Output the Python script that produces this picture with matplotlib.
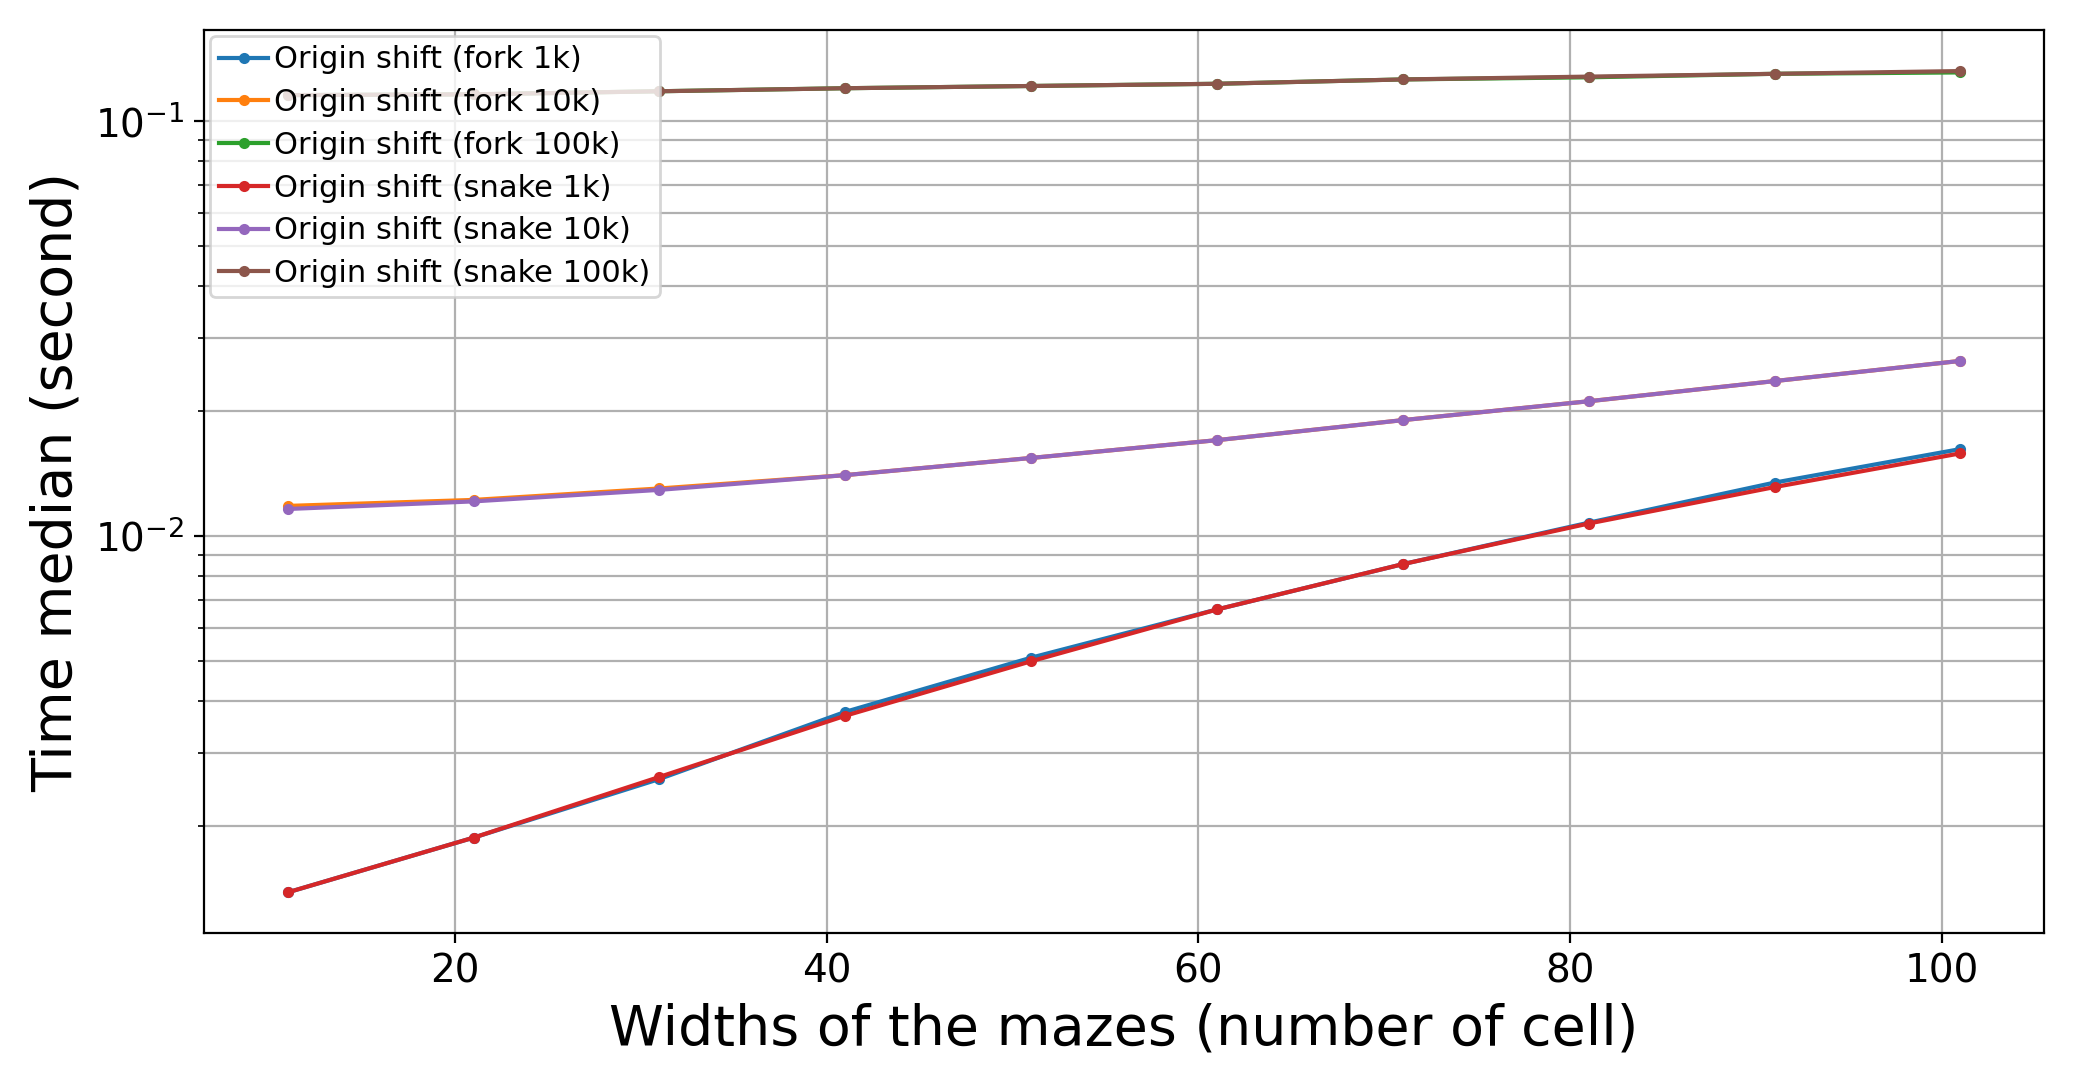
import matplotlib
matplotlib.use('Agg')
import matplotlib.pyplot as plt

widths = [11, 21, 31, 41, 51, 61, 71, 81, 91, 101]

fork_1k = [0.00138, 0.00187, 0.00259, 0.00376, 0.00508, 0.00664, 0.00854, 0.01075, 0.01343, 0.01618]
fork_10k = [0.0118, 0.0122, 0.0130, 0.0140, 0.0154, 0.0170, 0.0190, 0.0211, 0.0236, 0.0264]
fork_100k = [0.1155, 0.1160, 0.1180, 0.1200, 0.1215, 0.1230, 0.1260, 0.1275, 0.1300, 0.1310]
snake_1k = [0.00138, 0.00187, 0.00262, 0.00368, 0.00498, 0.00664, 0.00854, 0.01070, 0.01310, 0.01580]
snake_10k = [0.0116, 0.0121, 0.0129, 0.0140, 0.0154, 0.0170, 0.0190, 0.0211, 0.0236, 0.0264]
snake_100k = [0.1155, 0.1160, 0.1180, 0.1200, 0.1215, 0.1230, 0.1260, 0.1280, 0.1300, 0.1320]

series = [
    ('Origin shift (fork 1k)', fork_1k),
    ('Origin shift (fork 10k)', fork_10k),
    ('Origin shift (fork 100k)', fork_100k),
    ('Origin shift (snake 1k)', snake_1k),
    ('Origin shift (snake 10k)', snake_10k),
    ('Origin shift (snake 100k)', snake_100k),
]

fig, ax = plt.subplots(figsize=(10.37, 5.43), dpi=200)
for label, vals in series:
    ax.plot(widths, vals, marker='o', markersize=3, linewidth=1.5, label=label)

ax.set_yscale('log')
ax.grid(True, which='both')
ax.set_xlabel('Widths of the mazes (number of cell)', fontsize=20)
ax.set_ylabel('Time median (second)', fontsize=20)
ax.tick_params(labelsize=14)
ax.legend(fontsize=11, loc='upper left', handlelength=1.6, handletextpad=0.2,
          borderaxespad=0.2, borderpad=0.3, labelspacing=0.45)

fig.tight_layout()
fig.savefig('out.png', dpi=200)
